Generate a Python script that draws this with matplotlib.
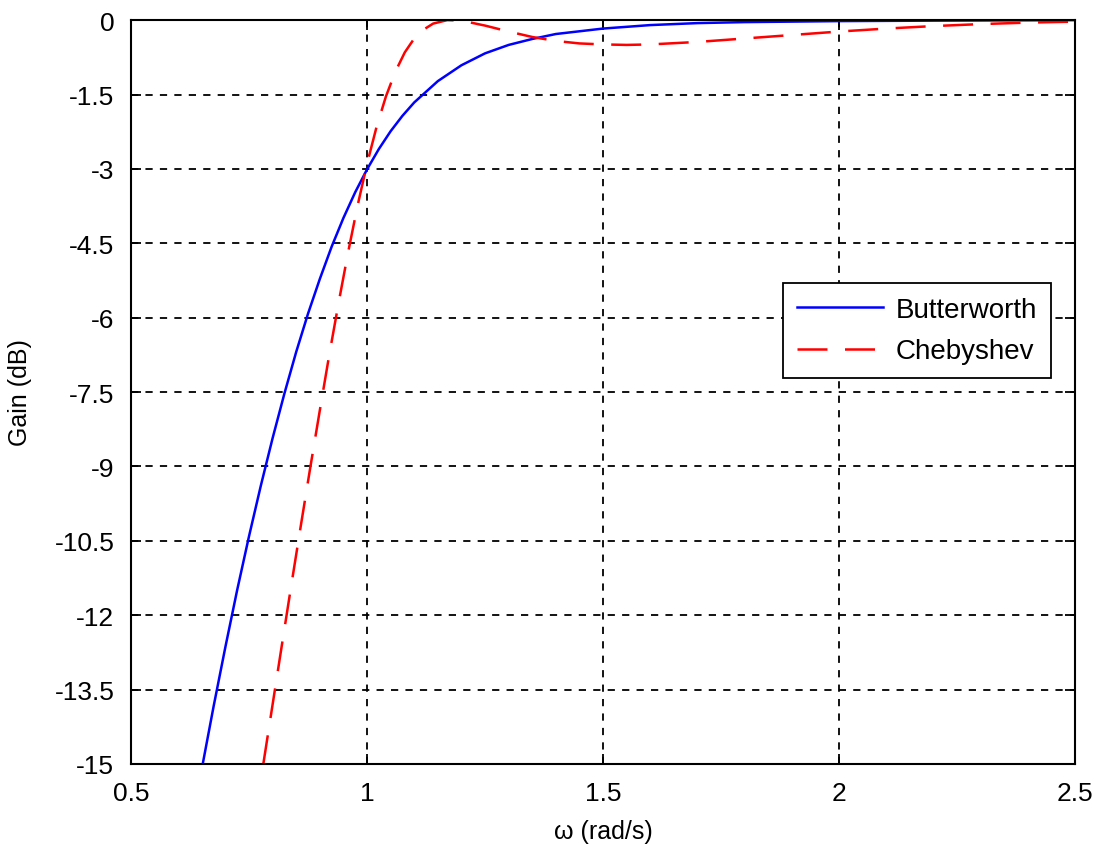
import matplotlib
matplotlib.use("Agg")
import matplotlib.pyplot as plt

plt.rcParams['font.family'] = ['Liberation Sans', 'DejaVu Sans']
plt.rcParams['axes.unicode_minus'] = False

# frequency (rad/s) and gain (dB)
w_butter = [0.65, 0.675, 0.70, 0.725, 0.75, 0.775, 0.80, 0.825, 0.85, 0.875,
            0.90, 0.925, 0.95, 0.975, 1.0, 1.025, 1.05, 1.075, 1.10, 1.15,
            1.20, 1.25, 1.30, 1.35, 1.40, 1.50, 1.60, 1.70, 1.80, 1.90,
            2.0, 2.2, 2.5]
g_butter = [-15.10, -13.84, -12.64, -11.49, -10.41, -9.39, -8.43, -7.53, -6.69, -5.92,
            -5.22, -4.57, -3.99, -3.47, -3.01, -2.60, -2.24, -1.93, -1.66, -1.23,
            -0.91, -0.67, -0.50, -0.38, -0.28, -0.17, -0.10, -0.06, -0.04, -0.03,
            -0.02, -0.01, 0.0]

w_cheby = [0.78, 0.80, 0.82, 0.84, 0.86, 0.88, 0.90, 0.92, 0.94, 0.96,
           0.98, 1.00, 1.02, 1.04, 1.06, 1.08, 1.10, 1.12, 1.14, 1.17,
           1.20, 1.25, 1.30, 1.35, 1.40, 1.45, 1.50, 1.55, 1.60, 1.70,
           1.80, 1.90, 2.0, 2.1, 2.2, 2.3, 2.4, 2.5]
g_cheby = [-15.02, -13.80, -12.58, -11.37, -10.18, -9.01, -7.87, -6.75, -5.69, -4.68,
           -3.74, -2.90, -2.16, -1.54, -1.04, -0.65, -0.37, -0.19, -0.07, 0.0,
           -0.01, -0.11, -0.23, -0.34, -0.42, -0.47, -0.49, -0.50, -0.49, -0.44,
           -0.37, -0.30, -0.23, -0.17, -0.12, -0.08, -0.05, -0.03]

yticks = [0, -1.5, -3, -4.5, -6, -7.5, -9, -10.5, -12, -13.5, -15]
ytick_labels = ['0', '-1.5', '-3', '-4.5', '-6', '-7.5', '-9', '-10.5', '-12', '-13.5', '-15']
xticks = [0.5, 1, 1.5, 2, 2.5]
xtick_labels = ['0.5', '1', '1.5', '2', '2.5']

fig = plt.figure(figsize=(10.96, 8.45), dpi=100)
ax = fig.add_axes([0.1195, 0.0947, 0.8615, 0.8803])

ax.plot(w_butter, g_butter, color='#0000ff', lw=1.8, label='Butterworth')
ax.plot(w_cheby, g_cheby, color='#ff0000', lw=1.8, dashes=(12, 7), label='Chebyshev')

ax.set_xlim(0.5, 2.5)
ax.set_ylim(-15, 0)
ax.set_xticks(xticks)
ax.set_xticklabels(xtick_labels)
ax.set_yticks(yticks)
ax.set_yticklabels(ytick_labels)
ax.tick_params(direction='in', length=7, width=1.3, top=True, right=True,
               labelsize=19)
ax.tick_params(axis='x', pad=12)
ax.tick_params(axis='y', pad=12)
ax.grid(True, color='black', linestyle=(0, (4, 4)), linewidth=1.3)
for s in ax.spines.values():
    s.set_linewidth(1.5)

ax.set_xlabel('ω (rad/s)', fontsize=18, labelpad=10)
ax.set_ylabel('Gain (dB)', fontsize=18, labelpad=16)

leg = ax.legend(loc='upper left', bbox_to_anchor=(0.691, 0.6465), fontsize=20,
                fancybox=False, edgecolor='black', framealpha=1,
                handlelength=3.1, borderaxespad=0, borderpad=0.5,
                labelspacing=0.55, handletextpad=0.45)
leg.get_frame().set_linewidth(1.3)

fig.savefig('out.png', dpi=100)
